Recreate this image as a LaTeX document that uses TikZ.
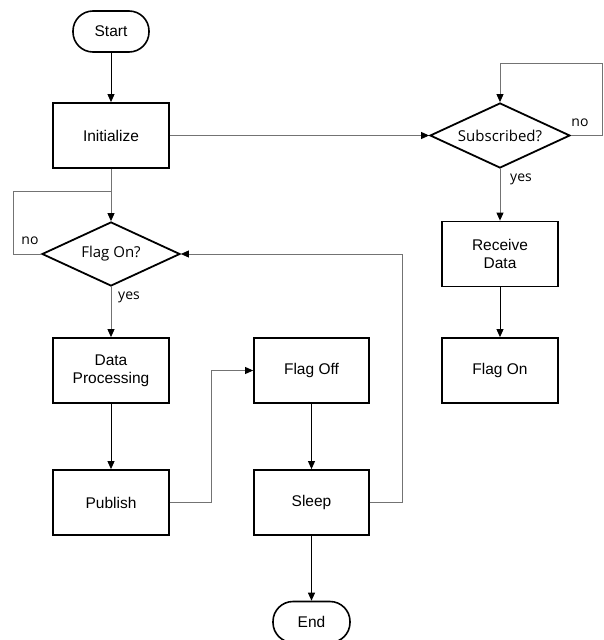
\documentclass[tikz,border=0pt]{standalone}
\usepackage{fontspec}
\setmainfont{Liberation Sans}
\newfontfamily\lblfont{Open Sans}
\usetikzlibrary{shapes.geometric,arrows.meta}
\begin{document}
\begin{tikzpicture}[x=1pt,y=1pt,
  boxstyle/.style={draw=black,line width=1.8pt,minimum width=116pt,minimum height=65pt,inner sep=2pt,align=center,font=\fontsize{15.5}{18}\selectfont},
  termstyle/.style={draw=black,line width=1.6pt,rounded corners=20pt,minimum width=76pt,minimum height=41pt,inner sep=0pt,font=\fontsize{15.5}{18}\selectfont},
  decstyle/.style={diamond,draw=black,line width=1.8pt,minimum width=140pt,minimum height=65pt,inner sep=0pt,label={[font=\lblfont\fontsize{15}{18}\selectfont]center:#1}},
  arr/.style={line width=0.9pt,draw=black,-{Triangle[length=8pt,width=7pt]}},
  garr/.style={line width=0.9pt,draw=black!55,-{Triangle[length=8pt,width=7pt,fill=black,color=black]}},
  gline/.style={line width=0.9pt,draw=black!55},
  lab/.style={font=\lblfont\fontsize{14}{16}\selectfont,inner sep=0pt}
]
\useasboundingbox (0,0) rectangle (603,-640);
\fill[white] (0,0) rectangle (603,-640);

\node[termstyle] (start) at (111,-31.5) {Start};
\node[boxstyle] (init) at (111,-135.5) {Initialize};
\node[decstyle=Subscribed?] (subs) at (500,-135.5) {};
\node[decstyle=Flag On?, minimum width=138pt, minimum height=64pt] (fq) at (111,-254) {};
\node[boxstyle] (recv) at (500,-254) {Receive\\Data};
\node[boxstyle] (fon) at (500,-370.5) {Flag On};
\node[boxstyle] (dp) at (111,-370.5) {Data\\Processing};
\node[boxstyle] (pub) at (111,-502.5) {Publish};
\node[boxstyle, minimum width=115pt] (foff) at (311.5,-370.5) {Flag Off};
\node[boxstyle, minimum width=115pt] (sleep) at (311.5,-502.5) {Sleep};
\node[termstyle, minimum width=77pt] (end) at (311.5,-622) {End};

\coordinate (stop) at (500,-63);
\coordinate (fqtop) at (111,-191.5);

\draw[arr] (start) -- (init);
\draw[garr] (init.east) -- (subs.west);
\draw[garr] (subs.east) -- ++(31.5,0) |- (stop) -- (subs.north);
\draw[garr] (subs.south) -- (recv.north);
\draw[arr] (recv) -- (fon);
\draw[garr] (init.south) -- (fq.north);
\draw[gline] (fq.west) -- ++(-28,0) |- (fqtop);
\draw[garr] (fq.south) -- (dp.north);
\draw[arr] (dp) -- (pub);
\draw[garr] (pub.east) -- ++(41.5,0) |- (foff.west);
\draw[arr] (foff) -- (sleep);
\draw[garr] (sleep.east) -- ++(32.5,0) |- (fq.east);
\draw[arr] (sleep) -- (end);

\node[lab] (no1) at (580,-123) {no};
\node[lab] (yes1) at (521,-179) {yes};
\node[lab] (no2) at (30,-241) {no};
\node[lab] (yes2) at (129,-297.5) {yes};
\end{tikzpicture}
\end{document}
